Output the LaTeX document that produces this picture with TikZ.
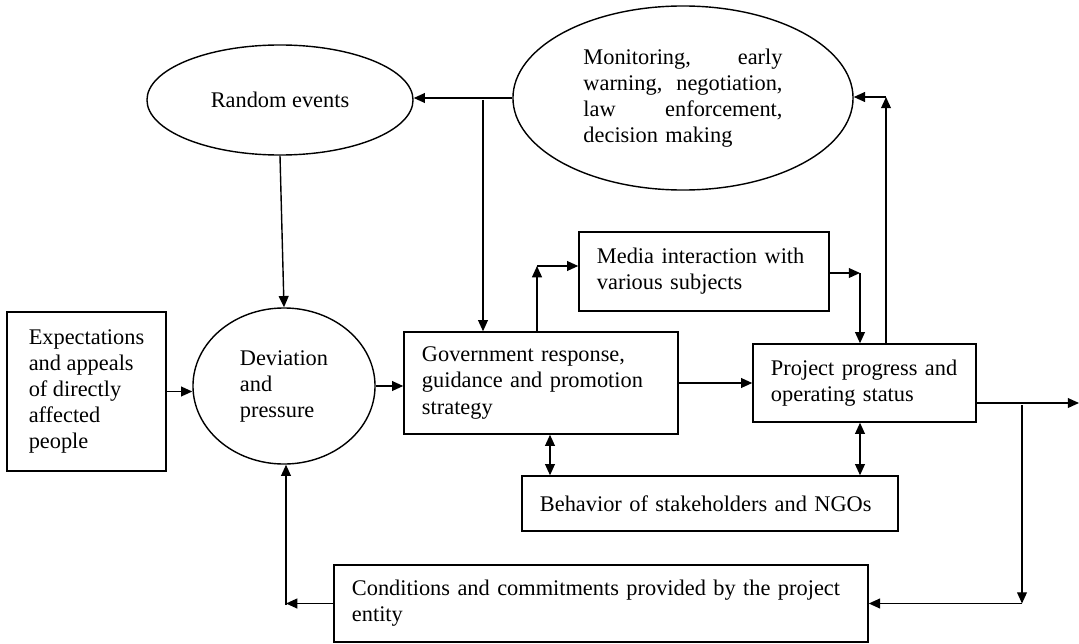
\documentclass[tikz,border=0pt]{standalone}
\usepackage{fontspec}
\setmainfont{Liberation Serif}
\usetikzlibrary{arrows.meta,shapes.geometric}

\begin{document}
\begin{tikzpicture}[x=0.025cm, y=-0.025cm,
    font=\fontsize{15.9}{18.5}\selectfont,
    caja/.style={draw, line width=1pt, rectangle, align=left, inner xsep=0.45cm, inner ysep=0pt},
    elipse/.style={draw, line width=1pt, ellipse, inner sep=0pt, align=left},
    flecha/.style={line width=1pt, -{Triangle[length=8pt,width=7pt]}},
    doble/.style={line width=1pt, {Triangle[length=8pt,width=7pt]}-{Triangle[length=8pt,width=7pt]}}]

  \useasboundingbox (0,0) rectangle (1079,644);

  % Elipses
  \node[elipse, minimum width=6.65cm, minimum height=2.75cm] (rand) at (280,100) {Random events};
  \node[elipse, minimum width=8.5cm, minimum height=4.6cm, text width=4.975cm] (mon) at (683,98)
    {Monitoring,\hfill early\\ warning,\hfill negotiation,\\ law\hfill enforcement,\\ decision making};
  \node[elipse, minimum width=4.55cm, minimum height=3.9cm] (dev) at (284,386) {Deviation\\ and\\ pressure};

  % Cajas
  \node[caja, minimum width=3.975cm, minimum height=3.975cm, inner xsep=0pt] (exp) at (86.5,391.5)
    {Expectations\\ and appeals\\ of directly\\ affected\\ people};
  \node[caja, text width=5.95cm, minimum height=2.55cm] (gov) at (541,383)
    {Government response,\\ guidance and promotion\\ strategy};
  \node[caja, text width=5.35cm, minimum height=1.975cm] (media) at (704,271.5)
    {Media interaction with\\ various subjects};
  \node[caja, text width=4.675cm, minimum height=1.95cm] (proj) at (864.5,383)
    {Project progress and\\ operating status};
  \node[caja, text width=8.5cm, minimum height=1.375cm] (beh) at (710,503.5)
    {Behavior of stakeholders and NGOs};
  \node[caja, text width=12.45cm, minimum height=1.925cm] (cond) at (601,603.5)
    {Conditions and commitments provided by the project\\ entity};

  % Puntos de quiebre
  \coordinate (n1) at (483,100);
  \coordinate (n2) at (537,266);
  \coordinate (n3) at (860,273);
  \coordinate (n4) at (886,97);
  \coordinate (n5) at (1022,405);
  \coordinate (n6) at (550,455);
  \coordinate (n7) at (286,605);
  \coordinate (fin) at (1079,403);

  % Conexiones
  \draw[flecha] (mon.west) -- (mon.west -| rand.east);
  \draw[flecha] (n1) -- (n1 |- gov.north);
  \draw[flecha] (rand.south) -- (dev.north);
  \draw[flecha] (exp.east) -- (exp.east -| dev.west);
  \draw[flecha] (dev.east) -- (dev.east -| gov.west);
  \draw[flecha] (n2 |- gov.north) -- (n2);
  \draw[flecha] (n2) -- (n2 -| media.west);
  \draw[flecha] (n3 -| media.east) -- (n3);
  \draw[flecha] (n3) -- (n3 |- proj.north);
  \draw[flecha] (n4 |- proj.north) -- (n4);
  \draw[flecha] (n4) -- (n4 -| mon.east);
  \draw[flecha] (gov.east) -- (proj.west);
  \draw[flecha] (proj.east |- fin) -- (fin);
  \draw[flecha] (n5) -- (n5 |- cond.east);
  \draw[flecha] (n5 |- cond.east) -- (cond.east);
  \draw[doble] (n3 |- proj.south) -- (n3 |- beh.north);
  \draw[doble] (n6 |- gov.south) -- (n6 |- beh.north);
  \draw[flecha] (cond.west) -- (cond.west -| n7);
  \draw[flecha] (n7) -- (n7 |- dev.south);

\end{tikzpicture}
\end{document}
